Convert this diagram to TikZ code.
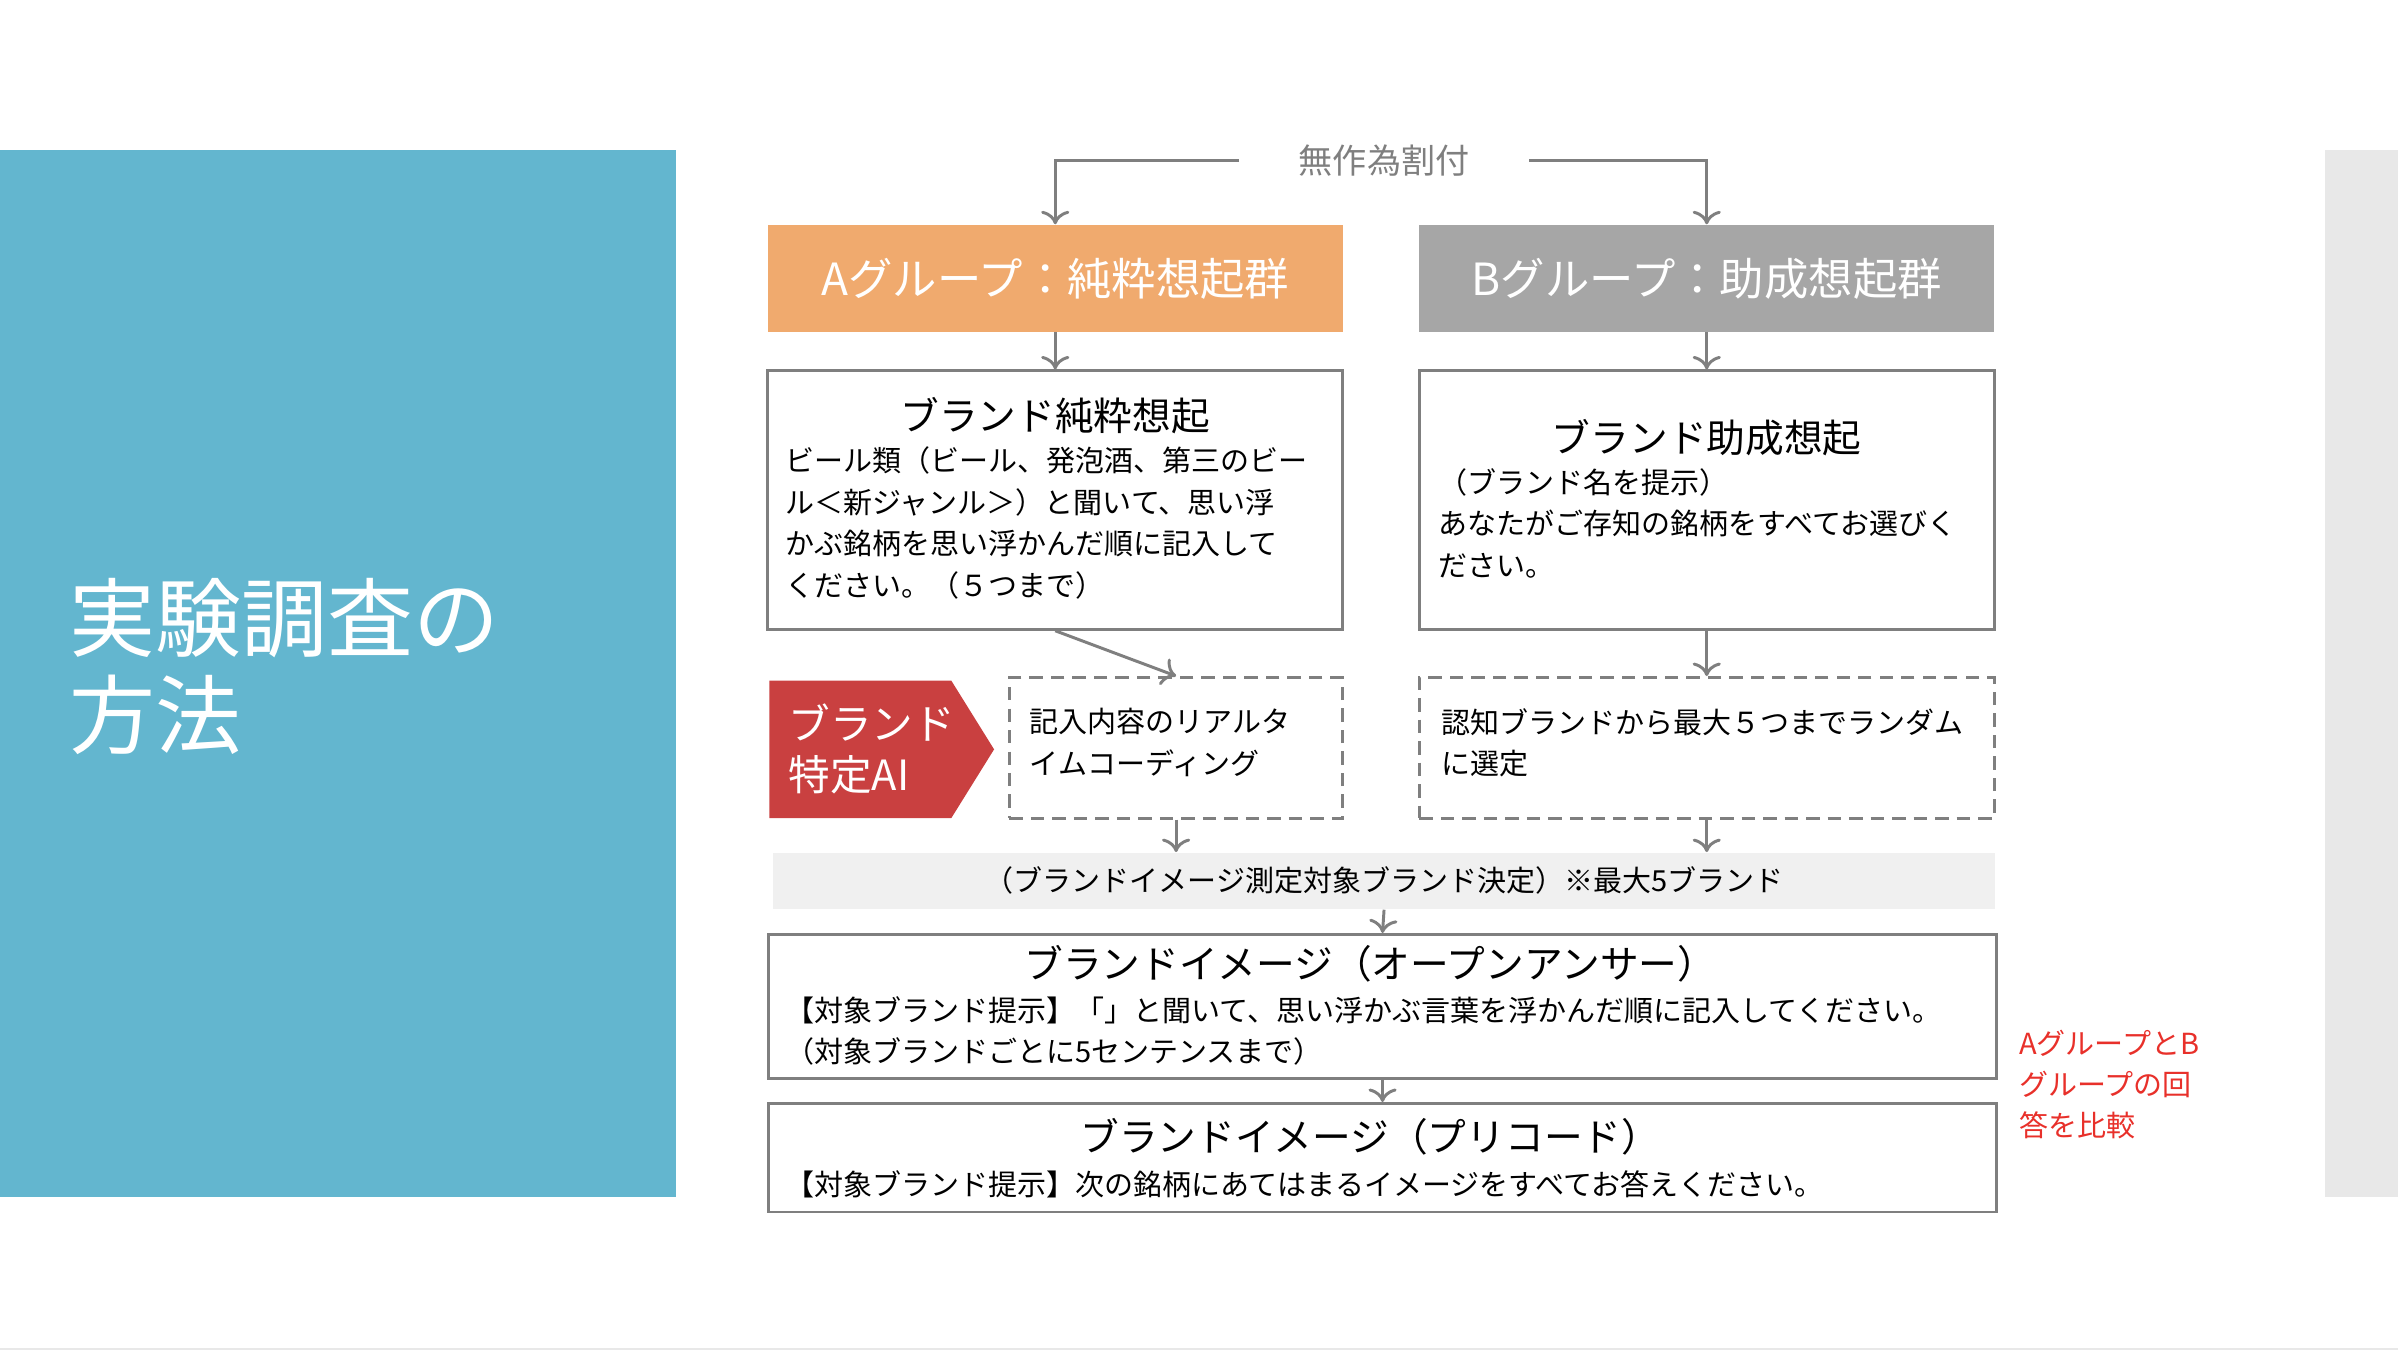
\documentclass[tikz,border=0pt]{standalone}
\usepackage{fontspec}
\setmainfont{Noto Sans CJK JP}
\usetikzlibrary{arrows.meta, positioning}
\definecolor{panelblue}{HTML}{63B6CF}
\definecolor{sidegray}{HTML}{E8E8E8}
\definecolor{agroup}{HTML}{F0AA6E}
\definecolor{bgroup}{HTML}{A6A6A6}
\definecolor{linegray}{HTML}{7F7F7F}
\definecolor{aired}{HTML}{C94040}
\definecolor{bargray}{HTML}{F0F0F0}
\definecolor{notered}{HTML}{E8302A}
\newcommand{\fs}[2]{\fontsize{#1}{#2}\selectfont}

\begin{document}
\begin{tikzpicture}[x=0.02cm, y=-0.02cm,
  hd/.style={fill=#1, text=white, minimum width=7.52cm, minimum height=1.4cm, font=\fs{16.5}{20}},
  bx/.style={draw=linegray, line width=1.1pt, minimum width=7.52cm},
  dbx/.style={bx, dashed, dash pattern=on 5pt off 3pt},
  ttl/.style={font=\fs{14.4}{18}},
  bdy/.style={anchor=north west, align=left, inner sep=0pt, font=\fs{10.8}{15.4}},
  arr/.style={draw=linegray, line width=1.1pt, -{To[length=5pt]}}]
  \useasboundingbox (0,0) rectangle (1568,884);
  % side panels
  \fill[panelblue] (0,98) rectangle (442,783);
  \fill[sidegray] (1520,98) rectangle (1568,783);
  \draw[sidegray, line width=1pt] (0,882) -- (1568,882);
  \node[anchor=north west, align=left, inner sep=0pt, text=white, font=\fs{32}{36}] (title) at (45,378) {実験調査の\\方法};
  % random assignment
  \node[text=linegray, font=\fs{12.7}{15}, inner xsep=22pt] (rand) at (905,105) {無作為割付};
  \node[hd=agroup] (ga) at (690,182) {Aグループ：純粋想起群};
  \node[hd=bgroup] (gb) at (1116,182) {Bグループ：助成想起群};
  \draw[arr] (rand.west) -| (ga.north);
  \draw[arr] (rand.east) -| (gb.north);
  % recall boxes
  \node[bx, minimum height=3.38cm] (ra) at (690,327) {};
  \node[ttl] (rat) at (690,272) {ブランド純粋想起};
  \node[bdy] (rab) at (513,292) {ビール類（ビール、発泡酒、第三のビー\\ル＜新ジャンル＞）と聞いて、思い浮\\かぶ銘柄を思い浮かんだ順に記入して\\ください。（５つまで）};
  \node[bx, minimum height=3.38cm] (rb) at (1116,327) {};
  \node[ttl] (rbt) at (1116,286) {ブランド助成想起};
  \node[bdy] (rbb) at (940,306) {（ブランド名を提示）\\あなたがご存知の銘柄をすべてお選びく\\ださい。};
  \draw[arr] (ga.south) -- (ra.north);
  \draw[arr] (gb.south) -- (rb.north);
  % coding / selection
  \fill[aired] (503,445) -- (622,445) -- (650,490) -- (622,535) -- (503,535) -- cycle;
  \node[align=left, text=white, font=\fs{15.5}{19}] (ai) at (570,490) {ブランド\\特定AI};
  \node[dbx, minimum width=4.36cm, minimum height=1.84cm] (ca) at (769,489) {};
  \node[bdy] (cat) at (673,463) {記入内容のリアルタ\\イムコーディング};
  \node[dbx, minimum height=1.84cm] (cb) at (1116,489) {};
  \node[bdy] (cbt) at (942,463) {認知ブランドから最大５つまでランダム\\に選定};
  \draw[arr] (ra.south) -- (ca.north);
  \draw[arr] (rb.south) -- (cb.north);
  % target decision
  \node[fill=bargray, minimum width=15.98cm, minimum height=0.74cm, font=\fs{10.8}{14}] (tg) at (905,576) {（ブランドイメージ測定対象ブランド決定）※最大5ブランド};
  \draw[arr] (ca.south) -- (ca.south |- tg.north);
  \draw[arr] (cb.south) -- (cb.south |- tg.north);
  % image questions
  \node[bx, minimum width=16.06cm, minimum height=1.88cm] (oa) at (904,658) {};
  \node[ttl] (oat) at (896,630) {ブランドイメージ（オープンアンサー）};
  \node[bdy] (oab) at (513,651) {【対象ブランド提示】「」と聞いて、思い浮かぶ言葉を浮かんだ順に記入してください。\\（対象ブランドごとに5センテンスまで）};
  \node[bx, minimum width=16.06cm, minimum height=1.42cm] (pc) at (904,757) {};
  \node[ttl] (pct) at (896,743) {ブランドイメージ（プリコード）};
  \node[bdy] (pcb) at (513,765) {【対象ブランド提示】次の銘柄にあてはまるイメージをすべてお答えください。};
  \draw[arr] (tg.south) -- (oa.north);
  \draw[arr] (oa.south) -- (pc.north);
  \node[anchor=north west, align=left, inner sep=0pt, text=notered, font=\fs{10.8}{15.4}] (cmp) at (1320,673) {AグループとB\\グループの回\\答を比較};
\end{tikzpicture}
\end{document}
